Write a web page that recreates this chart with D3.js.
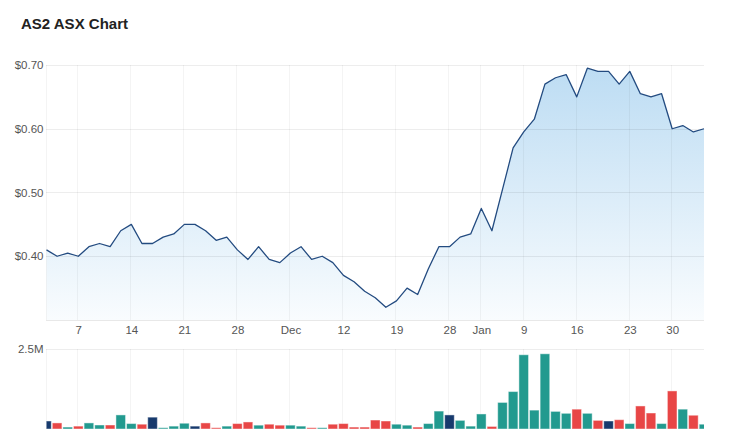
<!DOCTYPE html>
<html>
<head>
<meta charset="utf-8">
<script src="https://cdn.jsdelivr.net/npm/d3@7"></script>
<style>
body { margin: 0; background: #fff; }
svg { display: block; font-family: "Liberation Sans", Arial, sans-serif; }
.tick text { fill: #555; font-size: 11.5px; }
</style>
</head>
<body>
<div id="chart"></div>
<script>
// trading days, Nov 2022 - Feb 2023
const dates = [
    "2022-11-02", "2022-11-03", "2022-11-04", "2022-11-07", "2022-11-08", "2022-11-09", "2022-11-10", "2022-11-11",
    "2022-11-14", "2022-11-15", "2022-11-16", "2022-11-17", "2022-11-18", "2022-11-21", "2022-11-22", "2022-11-23",
    "2022-11-24", "2022-11-25", "2022-11-28", "2022-11-29", "2022-11-30", "2022-12-01", "2022-12-02", "2022-12-05",
    "2022-12-06", "2022-12-07", "2022-12-08", "2022-12-09", "2022-12-12", "2022-12-13", "2022-12-14", "2022-12-15",
    "2022-12-16", "2022-12-19", "2022-12-20", "2022-12-21", "2022-12-22", "2022-12-23", "2022-12-28", "2022-12-29",
    "2022-12-30", "2023-01-03", "2023-01-04", "2023-01-05", "2023-01-06", "2023-01-09", "2023-01-10", "2023-01-11",
    "2023-01-12", "2023-01-13", "2023-01-16", "2023-01-17", "2023-01-18", "2023-01-19", "2023-01-20", "2023-01-23",
    "2023-01-24", "2023-01-25", "2023-01-27", "2023-01-30", "2023-01-31", "2023-02-01", "2023-02-02"
];

const prices = [
    0.41, 0.40, 0.405, 0.40, 0.415, 0.42, 0.415, 0.44,
    0.45, 0.42, 0.42, 0.43, 0.435, 0.45, 0.45, 0.44,
    0.425, 0.43, 0.41, 0.395, 0.415, 0.395, 0.39, 0.405,
    0.415, 0.395, 0.40, 0.39, 0.37, 0.36, 0.345, 0.335,
    0.32, 0.33, 0.35, 0.34, 0.38, 0.415, 0.415, 0.43,
    0.435, 0.475, 0.44, 0.505, 0.57, 0.595, 0.615, 0.67,
    0.68, 0.685, 0.65, 0.695, 0.69, 0.69, 0.67, 0.69,
    0.655, 0.65, 0.655, 0.60, 0.605, 0.595, 0.60
];

// volume in millions
const volumes = [
    0.25, 0.19, 0.06, 0.09, 0.19, 0.125, 0.125, 0.44,
    0.17, 0.15, 0.37, 0.04, 0.09, 0.18, 0.09, 0.19,
    0.04, 0.09, 0.17, 0.22, 0.12, 0.15, 0.12, 0.12,
    0.09, 0.04, 0.04, 0.15, 0.17, 0.06, 0.06, 0.28,
    0.25, 0.15, 0.12, 0.06, 0.17, 0.56, 0.44, 0.27,
    0.09, 0.47, 0.08, 0.83, 1.17, 2.32, 0.59, 2.35,
    0.55, 0.49, 0.62, 0.49, 0.27, 0.25, 0.29, 0.17,
    0.72, 0.50, 0.17, 1.19, 0.62, 0.43, 0.15
];

const tickDates = ["2022-11-07", "2022-11-14", "2022-11-21", "2022-11-28", "2022-12-05", "2022-12-12", "2022-12-19",
    "2022-12-28", "2023-01-03", "2023-01-09", "2023-01-16", "2023-01-23", "2023-01-30"];
const tickLabels = ["7", "14", "21", "28", "Dec", "12", "19", "28", "Jan", "9", "16", "23", "30"];
const priceTicks = [0.40, 0.50, 0.60, 0.70];
const volumeTicks = [2.5];

const width = 741, height = 447;
const left = 46.5, right = 704;
const priceTop = 65, priceBottom = 320;
const volTop = 349, volBottom = 429;

const svg = d3.select("#chart").append("svg")
    .attr("width", width)
    .attr("height", height);

svg.append("text")
    .attr("x", 21)
    .attr("y", 29)
    .attr("font-size", 15)
    .attr("font-weight", "bold")
    .attr("fill", "#222")
    .text("AS2 ASX Chart");

const x = d3.scalePoint().domain(dates).range([left, right]);
const y = d3.scaleLinear().domain([0.30, 0.70]).range([priceBottom, priceTop]);
const yv = d3.scaleLinear().domain([0, 2.5]).range([volBottom, volTop]);

const defs = svg.append("defs");
const grad = defs.append("linearGradient")
    .attr("id", "fillGrad")
    .attr("gradientUnits", "userSpaceOnUse")
    .attr("x1", 0).attr("x2", 0)
    .attr("y1", priceTop).attr("y2", priceBottom);
grad.append("stop").attr("offset", 0).attr("stop-color", "#bcdcf3");
grad.append("stop").attr("offset", 1).attr("stop-color", "#f9fcfe");

defs.append("clipPath").attr("id", "volClip")
    .append("rect")
    .attr("x", left).attr("y", volTop - 5)
    .attr("width", right - left).attr("height", volBottom - volTop + 5);

// price area
svg.append("path")
    .datum(prices)
    .attr("fill", "url(#fillGrad)")
    .attr("d", d3.area()
        .x((d, i) => x(dates[i]))
        .y0(priceBottom)
        .y1(d => y(d)));

// gridlines (drawn over the fill, translucent)
const hColor = "rgba(0,0,0,0.07)";
const vColor = "rgba(0,0,0,0.045)";
const vDates = [dates[0]].concat(tickDates);
const grid = svg.append("g");
grid.selectAll(".hgrid")
    .data(priceTicks)
    .join("line")
    .attr("x1", left - 0.5).attr("x2", right)
    .attr("y1", d => Math.round(y(d)) + 0.5)
    .attr("y2", d => Math.round(y(d)) + 0.5)
    .attr("stroke", hColor);
grid.append("line")
    .attr("x1", left - 0.5).attr("x2", right)
    .attr("y1", priceBottom + 0.5).attr("y2", priceBottom + 0.5)
    .attr("stroke", "rgba(0,0,0,0.09)");
grid.selectAll(".vgrid")
    .data(vDates)
    .join("line")
    .attr("x1", d => Math.round(x(d)) - 0.5)
    .attr("x2", d => Math.round(x(d)) - 0.5)
    .attr("y1", priceTop).attr("y2", priceBottom)
    .attr("stroke", vColor);
grid.selectAll(".vvgrid")
    .data(vDates)
    .join("line")
    .attr("x1", d => Math.round(x(d)) - 0.5)
    .attr("x2", d => Math.round(x(d)) - 0.5)
    .attr("y1", volTop).attr("y2", volBottom)
    .attr("stroke", vColor);
grid.selectAll(".vhgrid")
    .data(volumeTicks)
    .join("line")
    .attr("x1", left - 0.5).attr("x2", right)
    .attr("y1", d => Math.round(yv(d)) + 0.5)
    .attr("y2", d => Math.round(yv(d)) + 0.5)
    .attr("stroke", hColor);

// price line
svg.append("path")
    .datum(prices)
    .attr("fill", "none")
    .attr("stroke", "#234b80")
    .attr("stroke-width", 1.3)
    .attr("stroke-linejoin", "round")
    .attr("d", d3.line()
        .x((d, i) => x(dates[i]))
        .y(d => y(d)));

// volume bars, coloured by day-on-day move
const barColor = (d, i) => {
    if (i === 0 || prices[i] === prices[i - 1]) return "#173a6d";
    return prices[i] > prices[i - 1] ? "#229a8f" : "#e84646";
};
const bw = x.step() - 1;
svg.append("g")
    .attr("clip-path", "url(#volClip)")
    .selectAll("rect")
    .data(volumes)
    .join("rect")
    .attr("x", (d, i) => x(dates[i]) - bw / 2)
    .attr("y", d => yv(d))
    .attr("width", bw)
    .attr("height", d => volBottom - yv(d))
    .attr("fill", barColor)
    .attr("stroke", "rgba(255,255,255,0.45)")
    .attr("stroke-width", 1);

// axes (labels only)
const yAxis = svg.append("g")
    .attr("transform", `translate(${left - 3},0)`)
    .call(d3.axisLeft(y).tickValues(priceTicks).tickSize(0).tickPadding(0)
        .tickFormat(d => "$" + d3.format(".2f")(d)));
yAxis.select(".domain").remove();

const xAxis = svg.append("g")
    .attr("transform", `translate(0,${priceBottom + 3})`)
    .call(d3.axisBottom(x).tickValues(tickDates).tickSize(0).tickPadding(0)
        .tickFormat((d, i) => tickLabels[i]));
xAxis.select(".domain").remove();
xAxis.selectAll("text").attr("dy", "0.95em");

const vAxis = svg.append("g")
    .attr("transform", `translate(${left - 3},0)`)
    .call(d3.axisLeft(yv).tickValues(volumeTicks).tickSize(0).tickPadding(0)
        .tickFormat(d => d + "M"));
vAxis.select(".domain").remove();
</script>
</body>
</html>
